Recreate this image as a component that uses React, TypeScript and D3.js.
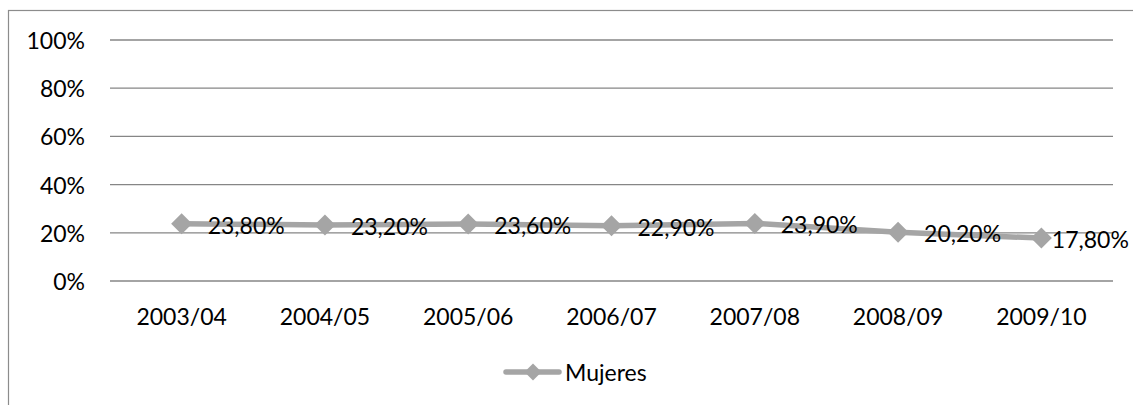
import React from "react";
import * as d3 from "d3";

const categories = ["2003/04", "2004/05", "2005/06", "2006/07", "2007/08", "2008/09", "2009/10"];
const mujeres = [23.8, 23.2, 23.6, 22.9, 23.9, 20.2, 17.8];
const yTicks = [0, 20, 40, 60, 80, 100];
const seriesName = "Mujeres";

const W = 1133;
const H = 405;
const FONT = "Lato, 'Noto Sans', sans-serif";
const GRAY = "#a5a5a5";
const FS = 23;

export default function App() {
  const x = d3.scaleBand<string>().domain(categories).range([110, 1113]);
  const y = d3.scaleLinear().domain([0, 100]).range([281, 40]);
  const cx = (c: string) => (x(c) as number) + x.bandwidth() / 2;
  const line = d3
    .line<number>()
    .x((_, i) => cx(categories[i]))
    .y((d) => y(d));
  const fmt = (v: number) => v.toFixed(2).replace(".", ",") + "%";
  const diamond = (px: number, py: number, r: number) =>
    `M${px},${py - r}L${px + r},${py}L${px},${py + r}L${px - r},${py}Z`;
  const labelW = 3.4 * FS;

  return (
    <svg
      width={W}
      height={H}
      style={{ position: "absolute", left: 0, top: 0, background: "#fff" }}
      fontFamily={FONT}
    >
      <rect x={8.5} y={10.5} width={1140} height={420} fill="#fff" stroke="#8c8c8c" strokeWidth={1.2} />
      {yTicks.map((t) => (
        <g key={t}>
          <line x1={110} x2={1113} y1={y(t)} y2={y(t)} stroke="#868686" strokeWidth={1.3} />
          <text x={85} y={y(t)} textAnchor="end" dominantBaseline="central" fontSize={FS} fill="#000">
            {t}%
          </text>
        </g>
      ))}
      {categories.map((c) => (
        <text key={c} x={cx(c)} y={316} textAnchor="middle" dominantBaseline="central" fontSize={FS} fill="#000">
          {c}
        </text>
      ))}
      <path d={line(mujeres) || ""} fill="none" stroke={GRAY} strokeWidth={5.5} strokeLinejoin="round" />
      {mujeres.map((v, i) => (
        <path key={i} d={diamond(cx(categories[i]), y(v), 10.5)} fill={GRAY} />
      ))}
      {mujeres.map((v, i) => (
        <text
          key={"l" + i}
          x={Math.min(cx(categories[i]) + 26, W - 3 - labelW)}
          y={y(v) + 1}
          dominantBaseline="central"
          fontSize={FS}
          fill="#000"
        >
          {fmt(v)}
        </text>
      ))}
      <g>
        <line x1={506} x2={559} y1={372} y2={372} stroke={GRAY} strokeWidth={5.5} strokeLinecap="round" />
        <path d={diamond(533, 372, 8.5)} fill={GRAY} />
        <text x={565} y={372} dominantBaseline="central" fontSize={FS} fill="#000">
          {seriesName}
        </text>
      </g>
    </svg>
  );
}
